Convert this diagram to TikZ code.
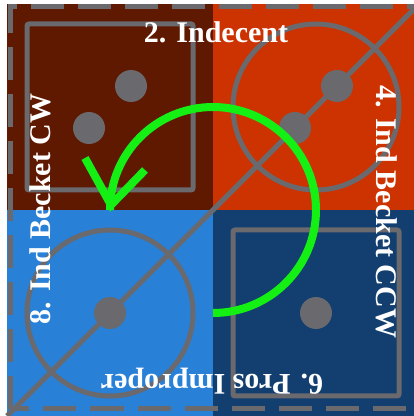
\documentclass[tikz,border=0pt]{standalone}
\usepackage{fontspec}
\setmainfont{Liberation Serif}
\definecolor{cTL}{RGB}{95,25,0}
\definecolor{cTR}{RGB}{204,51,0}
\definecolor{cBL}{RGB}{40,128,215}
\definecolor{cBR}{RGB}{18,62,112}
\definecolor{dgray}{RGB}{105,105,110}
\definecolor{agreen}{RGB}{20,240,20}
\begin{document}
\begin{tikzpicture}[x=1pt,y=1pt,
  graystroke/.style={draw=dgray, line width=5pt},
  dotfill/.style={fill=dgray},
  arrowline/.style={draw=agreen, line width=8pt},
  lbl/.style={text=white, font=\fontsize{30}{36}\selectfont\bfseries, inner sep=0pt, anchor=base}]
\useasboundingbox (0,0) rectangle (414,416);
\fill[white] (0,0) rectangle (414,416);
% quadrants
\fill[cTL] (7,206) rectangle (213,412);
\fill[cTR] (213,206) rectangle (419,412);
\fill[cBL] (7,0) rectangle (213,206);
\fill[cBR] (213,0) rectangle (419,206);
% dashed border
\draw[dgray, line width=5pt, dash pattern=on 33pt off 14pt] (10.5,7) rectangle (416.5,409.5);
% diagonal
\draw[graystroke] (7,0) -- (419,412);
% shapes
\draw[graystroke, rounded corners=2pt] (27,226) rectangle (193,392);
\draw[graystroke] (316,309) circle[radius=83];
\draw[graystroke] (110,103) circle[radius=83];
\draw[graystroke, rounded corners=2pt] (233,20) rectangle (399,186);
% dots
\fill[dotfill] (131,330) circle[radius=16];
\fill[dotfill] (89,288) circle[radius=16];
\fill[dotfill] (337,330) circle[radius=16];
\fill[dotfill] (295,288) circle[radius=16];
\fill[dotfill] (110,103) circle[radius=16];
\fill[dotfill] (316,103) circle[radius=16];
% labels
\node[lbl] (t2) at (216,373) {2. Indecent};
\node[lbl, rotate=90] (t8) at (50,207) {8. Ind Becket CW};
\node[lbl, rotate=-90] (t4) at (376,204) {4. Ind Becket CCW};
\node[lbl, rotate=180] (t6) at (212,41) {6. Pros Improper};
% green arrow
\draw[arrowline] (213,103) arc[start angle=-90, end angle=180, radius=103];
\draw[arrowline, line join=miter] (85,258) -- (111,211) -- (145,246);
\end{tikzpicture}
\end{document}
